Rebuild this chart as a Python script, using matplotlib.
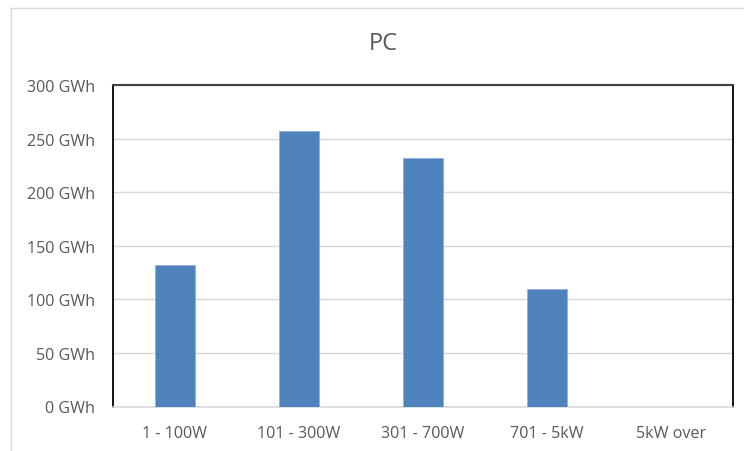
import matplotlib
matplotlib.use("Agg")
import matplotlib.pyplot as plt
from matplotlib.lines import Line2D

plt.rcParams['font.family'] = ['Open Sans', 'DejaVu Sans']

categories = ["1 - 100W", "101 - 300W", "301 - 700W", "701 - 5kW", "5kW over"]
values = [132, 257, 232, 110, 0]
y_ticks = [0, 50, 100, 150, 200, 250, 300]
y_tick_labels = [f"{v} GWh" for v in y_ticks]
title = "PC"

W, H = 744, 452
fig = plt.figure(figsize=(W / 100, H / 100), dpi=100)
ax = fig.add_axes([113 / W, 1 - 407.5 / H, (733 - 113) / W, (407.5 - 86) / H])

text_color = "#595959"
x = list(range(len(categories)))
ax.bar(x, values, width=0.315, color="#4F81BD", edgecolor="#8eb0dc", linewidth=0.6, zorder=3)

ax.set_xlim(-0.5, len(categories) - 0.5)
ax.set_ylim(0, 300)
ax.set_yticks(y_ticks)
ax.set_yticklabels(y_tick_labels)
ax.set_xticks(x)
ax.set_xticklabels(categories)
ax.tick_params(axis="both", length=0, labelsize=11.6, colors=text_color)
ax.tick_params(axis="y", pad=13)
ax.tick_params(axis="x", pad=13)

ax.grid(axis="y", color="#d9d9d9", linewidth=1.0, zorder=0)
ax.set_axisbelow(True)

ax.spines["left"].set_color("black")
ax.spines["left"].set_linewidth(1.3)
ax.spines["right"].set_color("black")
ax.spines["right"].set_linewidth(1.3)
ax.spines["top"].set_color("#404040")
ax.spines["top"].set_linewidth(1.5)
ax.spines["bottom"].set_color("#d9d9d9")
ax.spines["bottom"].set_linewidth(1.2)

fig.text(383 / W, 1 - 44 / H, title, ha="center", va="center", fontsize=17, color=text_color)

# chart area border
fig.add_artist(Line2D([11 / W, 1.0], [1 - 9 / H, 1 - 9 / H], transform=fig.transFigure, color="#d9d9d9", linewidth=1.0))
fig.add_artist(Line2D([11 / W, 11 / W], [0.0, 1 - 9 / H], transform=fig.transFigure, color="#d9d9d9", linewidth=1.0))

fig.savefig("out.png", dpi=100)
